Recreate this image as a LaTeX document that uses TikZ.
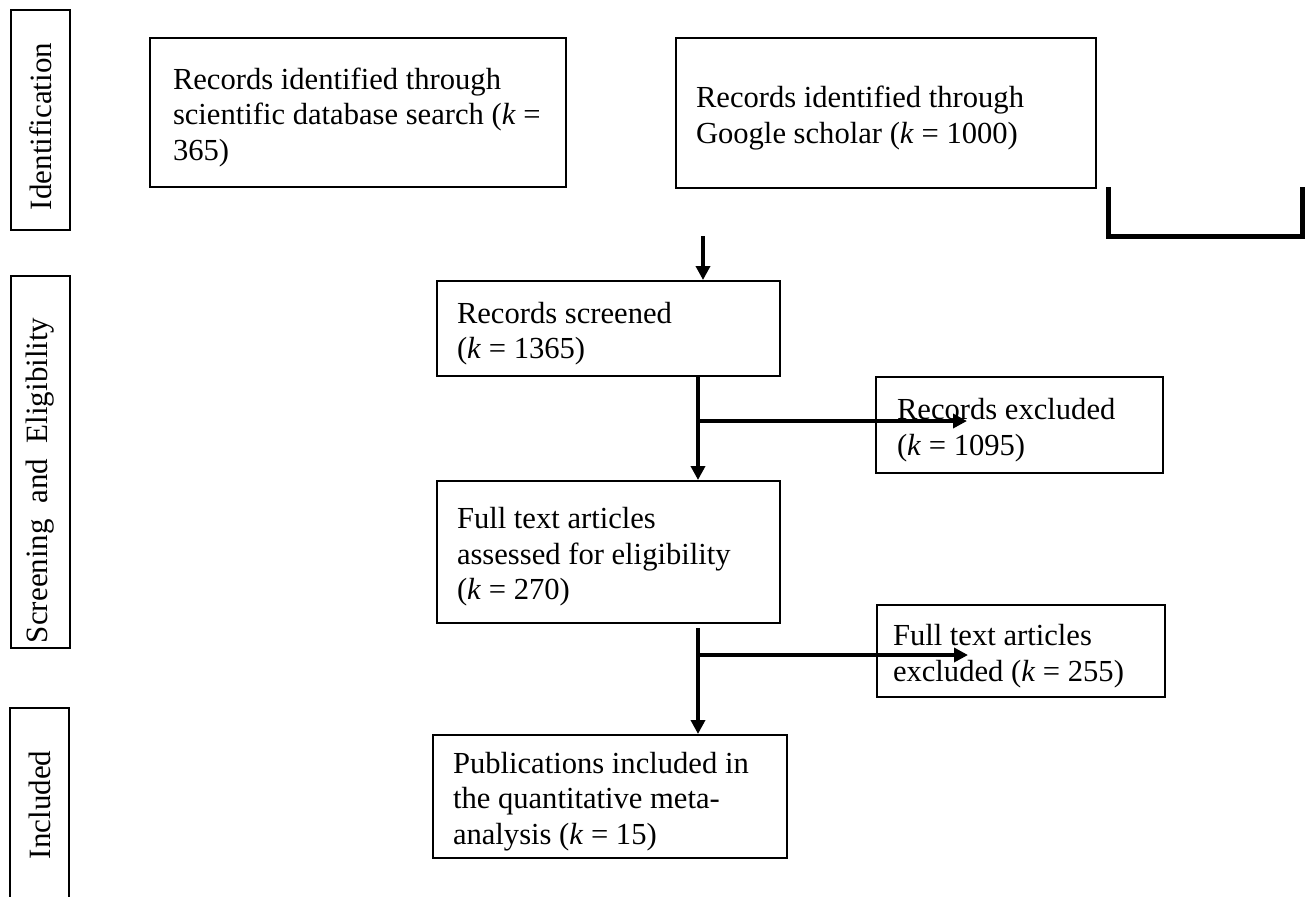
\documentclass[tikz,border=0pt]{standalone}
\usepackage{fontspec}
\setmainfont{Liberation Serif}
\usetikzlibrary{arrows.meta}
\tikzstyle{stage}=[draw,line width=1pt,rotate=90,align=flush left,font=\fontsize{15.5}{18}\selectfont,inner ysep=0pt,minimum height=29.5pt,execute at begin node={\spaceskip=0.5em\relax}]
\tikzstyle{record}=[draw,line width=1pt,align=flush left,font=\fontsize{15.3}{17.75}\selectfont,inner ysep=0pt,execute at begin node={\rule{0pt}{15.6pt}}]
\tikzstyle{edge} = [draw,line width=2pt,-{Triangle[length=7pt,width=7pt]}]
\tikzstyle{bracket} = [draw,line width=2.5pt]

\begin{document}
\begin{tikzpicture}[x=0.5pt,y=-0.5pt]
    \useasboundingbox (0,0) rectangle (1313,896);

    % phase labels on the left
    \foreach \pos/\name/\len/\pad/\tw/\txt in {{(40.5,120)/ident/110pt/10pt/90pt/Identification},
        {(40.5,462)/screen/186pt/2.5pt/181pt/Screening and Eligibility},
        {(39.5,804)/incl/96pt/20.5pt/55pt/Included}}
        \node[stage,minimum width=\len,inner xsep=\pad,text width=\tw] (\name) at \pos {\txt};

    % records
    \node[record,text width=185pt,inner xsep=11.5pt,minimum height=74.5pt] (search) at (358,112.5)
        {Records identified through\\\mbox{scientific database search (\textit{k} =}\\365)};
    \node[record,text width=190pt,inner xsep=10pt,minimum height=75pt,execute at begin node={}] (scholar) at (886,113)
        {Records identified through\\Google scholar (\textit{k} = 1000)};
    \node[record,text width=151.5pt,inner xsep=10pt,minimum height=47.5pt] (screened) at (608.5,328.5)
        {Records screened\\(\textit{k} = 1365)};
    \node[record,text width=122.5pt,inner xsep=10.5pt,minimum height=48pt] (excluded) at (1019.5,425)
        {Records excluded\\(\textit{k} = 1095)};
    \node[record,text width=151.5pt,inner xsep=10pt,minimum height=71pt] (fulltext) at (608.5,552)
        {Full text articles\\assessed for eligibility\\(\textit{k} = 270)};
    \node[record,text width=128pt,inner xsep=8pt,minimum height=46pt] (fullexcl) at (1021,651)
        {Full text articles\\excluded (\textit{k} = 255)};
    \node[record,text width=157pt,inner xsep=10pt,minimum height=61.5pt] (included) at (610,796.5)
        {Publications included in\\the quantitative meta-\\analysis (\textit{k} = 15)};

    % open bracket on the right
    \path[bracket] (1108,187) -- (1108,236) -- (1302,236) -- (1302,187);

    % connectors
    \coordinate (drop) at (703,236);
    \coordinate (trunk) at (698,0);
    \coordinate (fork1) at (698,421);
    \coordinate (tip1) at (967,421);
    \coordinate (gap) at (698,628);
    \coordinate (fork2) at (698,655);
    \coordinate (tip2) at (968,655);

    \path[edge] (drop) -- (drop |- screened.north);
    \path[edge] (screened.south -| trunk) -- (fulltext.north -| trunk);
    \path[edge] (fork1) -- (tip1);
    \path[edge] (gap) -- (included.north -| trunk);
    \path[edge] (fork2) -- (tip2);
\end{tikzpicture}
\end{document}
